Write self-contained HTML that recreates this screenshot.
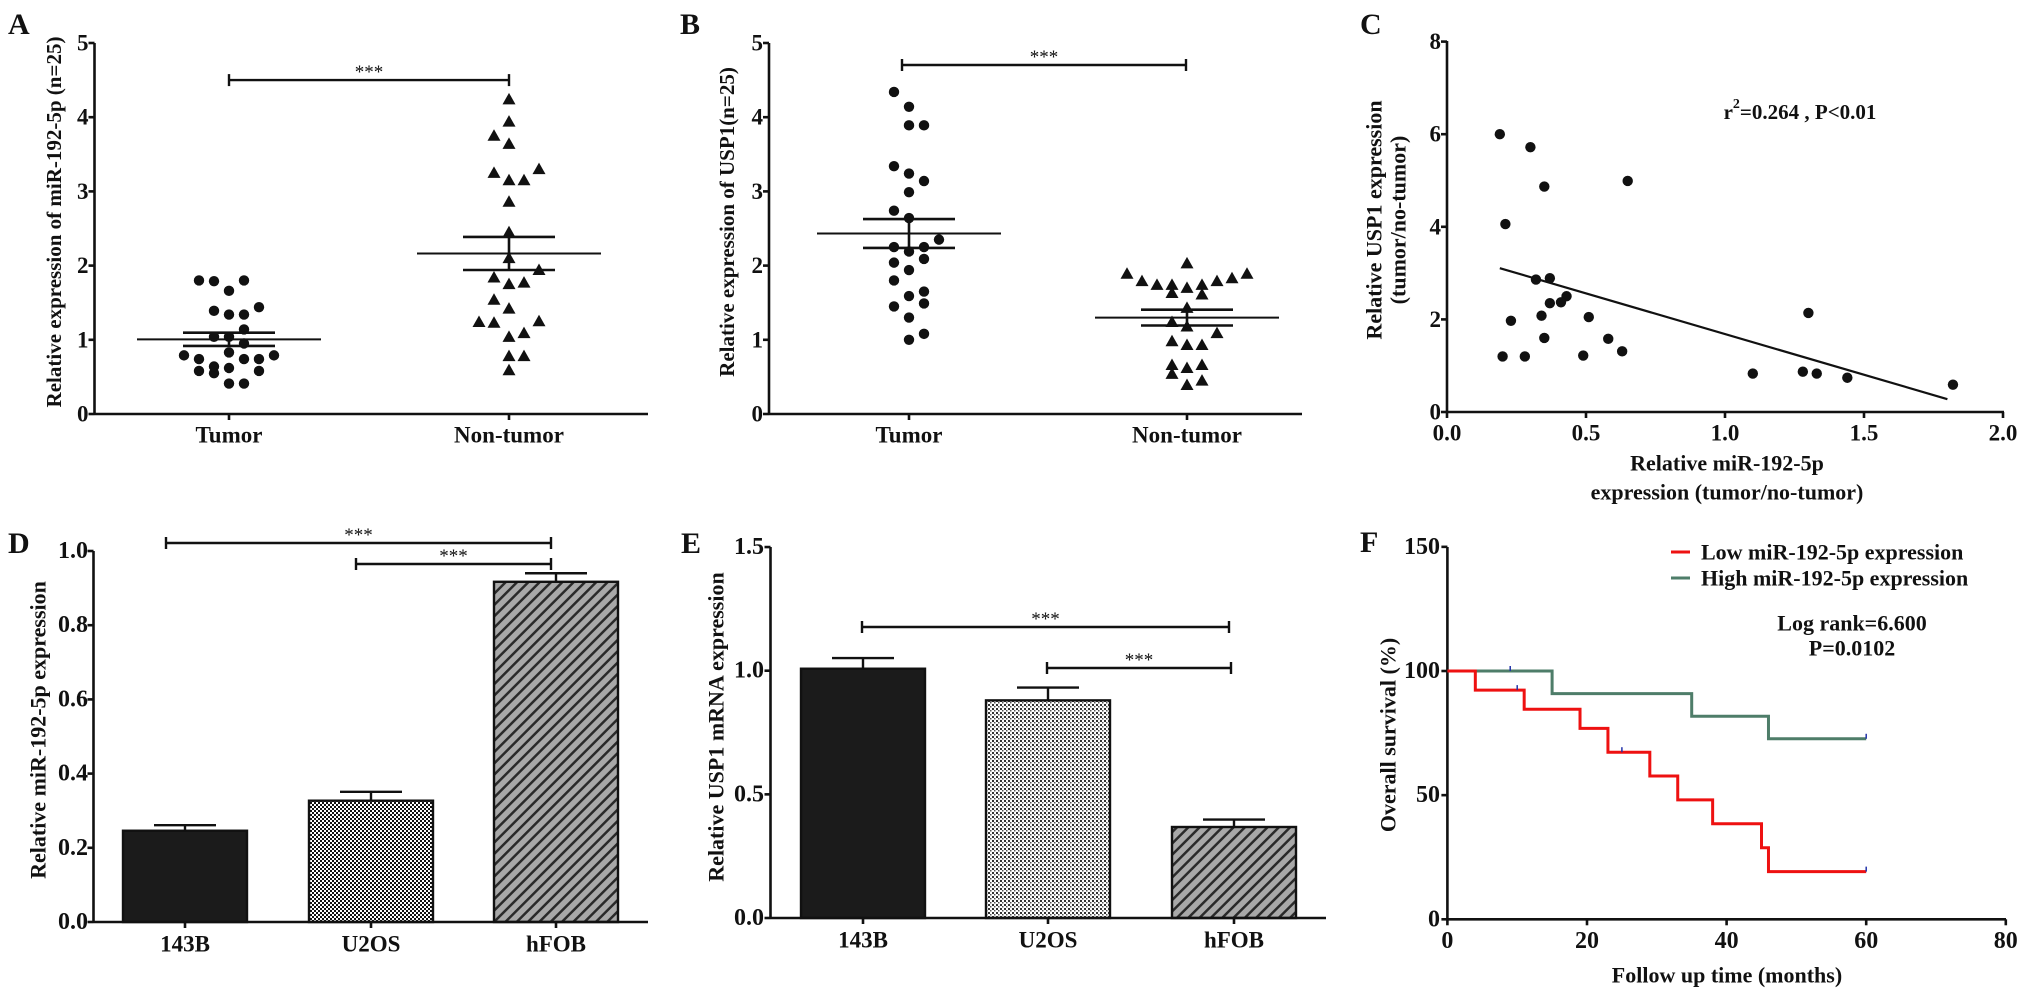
<!DOCTYPE html>
<html><head><meta charset="utf-8">
<style>
html,body{margin:0;padding:0;background:#fff;}
svg{display:block;font-family:"Liberation Serif",serif;font-weight:bold;}
text{fill:#111;}
</style></head>
<body>
<svg id="fig" width="2031" height="999" viewBox="0 0 2031 999" xmlns="http://www.w3.org/2000/svg">
<defs>
<pattern id="checkD" width="4" height="4" patternUnits="userSpaceOnUse"><rect width="4" height="4" fill="#fff"/><rect width="2" height="2" fill="#111"/><rect x="2" y="2" width="2" height="2" fill="#111"/></pattern>
<pattern id="checkE" width="4" height="4" patternUnits="userSpaceOnUse"><rect width="4" height="4" fill="#fff"/><rect width="2" height="2" fill="#333"/><rect x="2" y="2" width="1.5" height="1.5" fill="#555"/></pattern>
<pattern id="stripe" width="8" height="8" patternUnits="userSpaceOnUse" patternTransform="rotate(45)"><rect width="8" height="8" fill="#a8a8a8"/><rect width="2.5" height="8" fill="#2a2a2a"/></pattern>
</defs>
<text x="8" y="34" font-size="30">A</text>
<text x="680" y="34" font-size="30">B</text>
<text x="1360" y="34" font-size="30">C</text>
<text x="8" y="553" font-size="30">D</text>
<text x="681" y="553" font-size="30">E</text>
<text x="1360" y="552" font-size="30">F</text>
<text transform="translate(54,222) rotate(-90)" text-anchor="middle" dominant-baseline="central" font-size="21">Relative expression of miR-192-5p (n=25)</text>
<text transform="translate(727,222) rotate(-90)" text-anchor="middle" dominant-baseline="central" font-size="21">Relative expression of USP1(n=25)</text>
<text transform="translate(1374,220) rotate(-90)" text-anchor="middle" dominant-baseline="central" font-size="22">Relative USP1 expression</text>
<text transform="translate(1398,220) rotate(-90)" text-anchor="middle" dominant-baseline="central" font-size="22">(tumor/no-tumor)</text>
<text x="1727" y="463" text-anchor="middle" dominant-baseline="central" font-size="22">Relative miR-192-5p</text>
<text x="1727" y="492" text-anchor="middle" dominant-baseline="central" font-size="22">expression (tumor/no-tumor)</text>
<text x="1800" y="112" text-anchor="middle" dominant-baseline="central" font-size="21">r<tspan dy="-8" font-size="14">2</tspan><tspan dy="8">=0.264 , P&lt;0.01</tspan></text>
<text transform="translate(38,730) rotate(-90)" text-anchor="middle" dominant-baseline="central" font-size="22">Relative miR-192-5p expression</text>
<text transform="translate(716,727) rotate(-90)" text-anchor="middle" dominant-baseline="central" font-size="22">Relative USP1 mRNA expression</text>
<text transform="translate(1388,735) rotate(-90)" text-anchor="middle" dominant-baseline="central" font-size="22">Overall survival (%)</text>
<text x="1727" y="975" text-anchor="middle" dominant-baseline="central" font-size="22">Follow up time (months)</text>
<g>
<line x1="1671" y1="552" x2="1690" y2="552" stroke="#ee1111" stroke-width="3"/>
<text x="1701" y="552" dominant-baseline="central" font-size="22">Low miR-192-5p expression</text>
<line x1="1671" y1="578" x2="1690" y2="578" stroke="#4e7d69" stroke-width="3"/>
<text x="1701" y="578" dominant-baseline="central" font-size="22">High miR-192-5p expression</text>
</g>
<text x="1852" y="623" text-anchor="middle" dominant-baseline="central" font-size="22">Log rank=6.600</text>
<text x="1852" y="648" text-anchor="middle" dominant-baseline="central" font-size="22">P=0.0102</text>
</svg>
<script>
const aCategories = ["Tumor", "Non-tumor"];
const aTumorValues = [1.80,1.79,1.80,1.66,1.39,1.34,1.34,1.44,1.14,1.04,1.04,0.95,0.79,0.74,0.83,0.74,0.74,0.79,0.58,0.55,0.62,0.58,0.64,0.41,0.41];
const aTumorSlots  = [-2,-1,1,0,-1,0,1,2,1,-1,0,1,-3,-2,0,1,2,3,-2,-1,0,2,-1,0,1];
const aNonValues = [4.24,3.94,3.75,3.64,3.30,3.25,3.15,3.15,2.86,2.45,2.10,1.94,1.84,1.75,1.77,1.54,1.42,1.24,1.23,1.25,1.04,1.09,0.78,0.78,0.59];
const aNonSlots  = [0,0,-1,0,2,-1,0,1,0,0,0,2,-1,0,1,-1,0,-2,-1,2,0,1,0,1,0];
const aTicks = [0,1,2,3,4,5];
const bCategories = ["Tumor", "Non-tumor"];
const bTumorValues = [4.34,4.14,3.89,3.89,3.34,3.24,3.14,2.99,2.74,2.64,2.35,2.25,2.19,2.25,2.09,2.04,1.94,1.80,1.59,1.65,1.49,1.45,1.30,1.08,1.00];
const bTumorSlots  = [-1,0,0,1,-1,0,1,0,-1,0,2,-1,0,1,1,-1,0,-1,0,1,1,-1,0,1,0];
const bNonValues = [2.03,1.89,1.79,1.74,1.74,1.70,1.74,1.79,1.83,1.89,1.63,1.61,1.43,1.24,1.18,1.09,0.98,0.93,0.93,0.66,0.62,0.66,0.54,0.39,0.45];
const bNonSlots  = [0,-4,-3,-2,-1,0,1,2,3,4,-1,1,0,-1,0,2,-1,0,1,-1,0,1,-1,0,1];
const bTicks = [0,1,2,3,4,5];
const cMirValues  = [0.19,0.30,0.35,0.65,0.21,0.32,0.37,0.43,0.41,0.37,0.34,0.23,0.51,0.35,0.58,0.20,0.28,0.49,0.63,1.30,1.10,1.28,1.33,1.44,1.82];
const cUspValues  = [6.00,5.72,4.87,4.99,4.06,2.86,2.89,2.50,2.37,2.35,2.08,1.97,2.05,1.60,1.58,1.20,1.20,1.22,1.31,2.14,0.83,0.87,0.83,0.74,0.59];
const cXTicks = [0,0.5,1.0,1.5,2.0];
const cXTickLabels = ["0.0","0.5","1.0","1.5","2.0"];
const cYTicks = [0,2,4,6,8];
const dCategories = ["143B","U2OS","hFOB"];
const dValues = [0.246,0.327,0.917];
const dErrors = [0.015,0.024,0.023];
const dTicks = [0,0.2,0.4,0.6,0.8,1.0];
const dTickLabels = ["0.0","0.2","0.4","0.6","0.8","1.0"];
const eCategories = ["143B","U2OS","hFOB"];
const eValues = [1.008,0.880,0.368];
const eErrors = [0.043,0.052,0.030];
const eTicks = [0,0.5,1.0,1.5];
const eTickLabels = ["0.0","0.5","1.0","1.5"];
const fLowTimes = [0,4,11,19,23,29,33,38,45,46,60];
const fLowSurv  = [100,92.3,84.6,76.9,67.3,57.7,48.1,38.5,28.8,19.2,19.2];
const fLowCensorTimes = [10,25,60];
const fHighTimes = [0,15,35,46,60];
const fHighSurv  = [100,90.9,81.8,72.7,72.7];
const fHighCensorTimes = [9,60];
const fXTicks = [0,20,40,60,80];
const fYTicks = [0,50,100,150];

const NS = "http://www.w3.org/2000/svg";
const svg = document.getElementById("fig");
function mk(tag, attrs, parent) {
  const e = document.createElementNS(NS, tag);
  for (const k in attrs) e.setAttribute(k, attrs[k]);
  (parent || svg).appendChild(e);
  return e;
}
const AX = {stroke:"#111","stroke-width":2.6};

function yAxis(x, y0, y1, ticks, labels, scale, labelRight, name, fs) {
  const ax = mk("line", Object.assign({x1:x,y1:y0,x2:x,y2:y1}, AX));
  
  
  ticks.forEach((t, i) => {
    const y = scale(t);
    const tk = mk("line", Object.assign({x1:x-6,y1:y,x2:x,y2:y}, AX));
    
    
    const tx = mk("text", {x:labelRight, y:y, "text-anchor":"end", "dominant-baseline":"central", "font-size":fs});
    tx.textContent = labels ? labels[i] : String(t);
    
    
  });
}
function xAxisLine(y, x0, x1, name) {
  const ax = mk("line", Object.assign({x1:x0,y1:y,x2:x1,y2:y}, AX));
  
  
}
function xTick(x, y, label, ly, name, fs) {
  const tk = mk("line", Object.assign({x1:x,y1:y,x2:x,y2:y+6}, AX));
  
  
  const tx = mk("text", {x:x, y:ly, "text-anchor":"middle", "dominant-baseline":"central", "font-size":fs});
  tx.textContent = label;
  
  
}
function sigBar(x0, x1, y, name) {
  const g = mk("g", {});
  
  
  const l = mk("line", {x1:x0,y1:y,x2:x1,y2:y,stroke:"#111","stroke-width":2.4}, g);
  
  
  [x0, x1].forEach(x => {
    const c = mk("line", {x1:x,y1:y-6,x2:x,y2:y+6,stroke:"#111","stroke-width":2.4}, g);
    
    
  });
  const s = mk("text", {x:(x0+x1)/2, y:y-2, "text-anchor":"middle", "font-size":19, "font-weight":"normal"}, g);
  s.textContent = "***";
  
  
}
function mean(a){return a.reduce((s,v)=>s+v,0)/a.length;}
function sem(a){const m=mean(a);const sd=Math.sqrt(a.reduce((s,v)=>s+(v-m)*(v-m),0)/(a.length-1));return sd/Math.sqrt(a.length);}

function dotPanel(name, xCenters, yScale, ticks, axisX, axisEnd, cats, series) {
  yAxis(axisX, 43, 414, ticks, null, yScale, axisX - 6, name, 23);
  xAxisLine(414, axisX, axisEnd, name);
  cats.forEach((c, i) => xTick(xCenters[i], 414, c, 435, name, 23));
  series.forEach((s, si) => {
    const cx = xCenters[si];
    s.values.forEach((v, j) => {
      const x = cx + s.slots[j] * 15;
      const y = yScale(v);
      let m;
      if (s.shape === "circle") {
        m = mk("circle", {cx:x, cy:y, r:5.2, fill:"#111"});
      } else {
        m = mk("polygon", {points:`${x},${y-6.5} ${x-6.5},${y+5} ${x+6.5},${y+5}`, fill:"#111"});
      }
      
      
    });
    const m = mean(s.values), se = sem(s.values);
    const ml = mk("line", {x1:cx-92, y1:yScale(m), x2:cx+92, y2:yScale(m), stroke:"#111","stroke-width":2});
    
    
    [m+se, m-se].forEach(v => {
      const sl = mk("line", {x1:cx-46, y1:yScale(v), x2:cx+46, y2:yScale(v), stroke:"#111","stroke-width":2.6});
      
      
    });
    const vl = mk("line", {x1:cx, y1:yScale(m+se), x2:cx, y2:yScale(m-se), stroke:"#111","stroke-width":2.6});
    
    
  });
}
const yAB = v => 414 - v * 74.2;
dotPanel("panel-a", [229, 509], yAB, aTicks, 94.5, 648, aCategories,
  [{key:"tumor", shape:"circle", values:aTumorValues, slots:aTumorSlots},
   {key:"non-tumor", shape:"tri", values:aNonValues, slots:aNonSlots}]);
sigBar(229, 509, yAB(4.5), "panel-a-significance");
dotPanel("panel-b", [909, 1187], yAB, bTicks, 769, 1302, bCategories,
  [{key:"tumor", shape:"circle", values:bTumorValues, slots:bTumorSlots},
   {key:"non-tumor", shape:"tri", values:bNonValues, slots:bNonSlots}]);
sigBar(902, 1186, 65, "panel-b-significance");

const xC = v => 1447 + v * 278;
const yC = v => 412 - v * 46.3;
yAxis(1447, 41, 412, cYTicks, null, yC, 1441, "panel-c", 23);
xAxisLine(412, 1447, 2004, "panel-c");
cXTicks.forEach((t, i) => xTick(xC(t), 412, cXTickLabels[i], 433, "panel-c", 23));
cMirValues.forEach((xv, i) => {
  const p = mk("circle", {cx:xC(xv), cy:yC(cUspValues[i]), r:5.2, fill:"#111"});
  
  
});
(function(){
  const mx = mean(cMirValues), my = mean(cUspValues);
  let sxy=0, sxx=0;
  cMirValues.forEach((x,i)=>{sxy+=(x-mx)*(cUspValues[i]-my); sxx+=(x-mx)*(x-mx);});
  const b = sxy/sxx, a = my - b*mx;
  const x0 = Math.min(...cMirValues), x1 = Math.max(...cMirValues) - 0.02;
  const rl = mk("line", {x1:xC(x0), y1:yC(a+b*x0), x2:xC(x1), y2:yC(a+b*x1), stroke:"#111","stroke-width":2.2});
  
  
})();

function barPanel(name, axisX, axisEnd, y0px, unitPx, ticks, tickLabels, labelRight, centers, cats, values, errors, fills, topPx) {
  const yS = v => y0px - v * unitPx;
  centers.forEach((cx, i) => {
    const r = mk("rect", {x:cx-62, y:yS(values[i]), width:124, height:yS(0)-yS(values[i]), fill:fills[i], stroke:"#111", "stroke-width":2.4});
    
    
    const ev = mk("line", {x1:cx, y1:yS(values[i]), x2:cx, y2:yS(values[i]+errors[i]), stroke:"#111","stroke-width":2.4});
    
    
    const ec = mk("line", {x1:cx-31, y1:yS(values[i]+errors[i]), x2:cx+31, y2:yS(values[i]+errors[i]), stroke:"#111","stroke-width":2.4});
    
    
  });
  yAxis(axisX, topPx, y0px, ticks, tickLabels, yS, labelRight, name, 24);
  xAxisLine(y0px, axisX, axisEnd, name);
  cats.forEach((c, i) => xTick(centers[i], y0px, c, y0px + 22, name, 23));
  return yS;
}
const dCenters = [185, 371, 556];
const yD = barPanel("panel-d", 93.5, 648, 922, 371, dTicks, dTickLabels, 88, dCenters, dCategories, dValues, dErrors,
  ["#1b1b1b", "url(#checkD)", "url(#stripe)"], 551);
sigBar(166, 551, 543, "panel-d-significance-143b-hfob");
sigBar(356, 551, 564, "panel-d-significance-u2os-hfob");
const eCenters = [863, 1048, 1234];
const yE = barPanel("panel-e", 770.5, 1326, 918, 247.3, eTicks, eTickLabels, 764, eCenters, eCategories, eValues, eErrors,
  ["#1b1b1b", "url(#checkE)", "url(#stripe)"], 547);
sigBar(862, 1229, 627, "panel-e-significance-143b-hfob");
sigBar(1047, 1231, 668, "panel-e-significance-u2os-hfob");

const xF = t => 1447.4 + t * 6.98;
const yF = s => 919.3 - s * 2.483;
yAxis(1447.4, 547, 919.3, fYTicks, null, yF, 1440, "panel-f", 24);
xAxisLine(919.3, 1447.4, 2006, "panel-f");
fXTicks.forEach(t => xTick(xF(t), 919.3, String(t), 941, "panel-f", 24));
function stepPath(times, surv) {
  let d = `M${xF(times[0])},${yF(surv[0])}`;
  for (let i = 1; i < times.length; i++) {
    d += ` H${xF(times[i])} V${yF(surv[i])}`;
  }
  return d;
}
function survValue(times, surv, t) {
  let s = surv[0];
  for (let i = 0; i < times.length; i++) if (times[i] <= t) s = surv[i];
  return s;
}
const hiPath = mk("path", {d:stepPath(fHighTimes, fHighSurv), fill:"none", stroke:"#4e7d69", "stroke-width":3});


const loPath = mk("path", {d:stepPath(fLowTimes, fLowSurv), fill:"none", stroke:"#ee1111", "stroke-width":3});


fLowCensorTimes.forEach(t => {
  const y = yF(survValue(fLowTimes, fLowSurv, t));
  const c = mk("line", {x1:xF(t), y1:y-5, x2:xF(t), y2:y, stroke:"#2233aa", "stroke-width":1.5});
  
  
});
fHighCensorTimes.forEach(t => {
  const y = yF(survValue(fHighTimes, fHighSurv, t));
  const c = mk("line", {x1:xF(t), y1:y-5, x2:xF(t), y2:y, stroke:"#2233aa", "stroke-width":1.5});
  
  
});
</script>
</body></html>
